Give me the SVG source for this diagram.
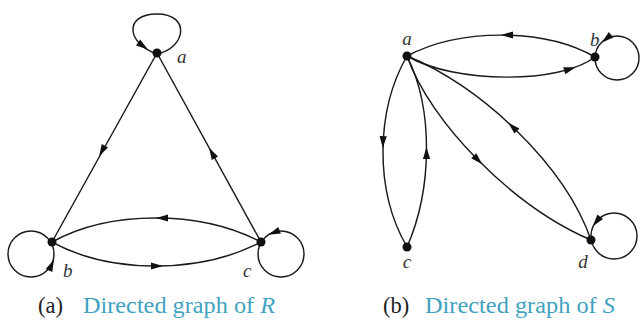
<svg xmlns="http://www.w3.org/2000/svg" width="641" height="326" viewBox="0 0 641 326">
<style>
.e{fill:none;stroke:#1a1a1a;stroke-width:1.45}
.n{fill:#111}
.lbl{font-family:"Liberation Serif",serif;font-style:italic;font-size:19px;fill:#333}
.cap{font-family:"Liberation Serif",serif;font-size:22.5px;fill:#222}
.teal{fill:#3fa2c0}
</style>
<defs>
<polygon id="ah" points="6,0 -6,-3.6 -6,3.6" fill="#111"/>
</defs>
<rect width="641" height="326" fill="#fff"/>

<g id="connectors">
  <!-- Graph R -->
  <line class="e" x1="157" y1="53" x2="52" y2="242"/>
  <line class="e" x1="261" y1="242" x2="157" y2="53"/>
  <path class="e" d="M261,242 C200,210 110,210 52,242"/>
  <path class="e" d="M52,242 C110,274 200,274 261,242"/>
  <path class="e" d="M157,54 C186,48 191,14 157,14 C123,14 127,44 157,54"/>
  <circle class="e" cx="31" cy="254" r="23"/>
  <circle class="e" cx="281" cy="254" r="23"/>
  <use href="#ah" transform="translate(102,151) rotate(119)"/>
  <use href="#ah" transform="translate(212,153) rotate(-119)"/>
  <use href="#ah" transform="translate(162,218) rotate(180)"/>
  <use href="#ah" transform="translate(157,266)"/>
  <use href="#ah" transform="translate(143,46) rotate(35)"/>
  <use href="#ah" transform="translate(51.5,265) rotate(-65)"/>
  <use href="#ah" transform="translate(274,232.5) rotate(158)"/>

  <!-- Graph S -->
  <path class="e" d="M595,57 C545,28 460,28 407,56"/>
  <path class="e" d="M407,56 C455,84 560,84 595,57"/>
  <path class="e" d="M407,56 C376,110 374,190 407,247"/>
  <path class="e" d="M407,247 C432,190 434,110 407,56"/>
  <path class="e" d="M407,56 C430,122 512,206 591,240"/>
  <path class="e" d="M591,240 C565,165 480,85 407,56"/>
  <circle class="e" cx="617" cy="58" r="22"/>
  <circle class="e" cx="614" cy="236" r="23"/>
  <use href="#ah" transform="translate(507,35) rotate(180)"/>
  <use href="#ah" transform="translate(570,69) rotate(-17)"/>
  <use href="#ah" transform="translate(383,142) rotate(92)"/>
  <use href="#ah" transform="translate(426.5,153) rotate(-90)"/>
  <use href="#ah" transform="translate(478,160) rotate(45)"/>
  <use href="#ah" transform="translate(512.6,126.8) rotate(-136)"/>
  <use href="#ah" transform="translate(606.5,38.7) rotate(140)"/>
  <use href="#ah" transform="translate(596.5,221.5) rotate(128)"/>
</g>

<g id="R-a"><circle class="n" cx="157" cy="53" r="4.5"/><text class="lbl" x="177" y="63">a</text></g>
<g id="R-b"><circle class="n" cx="52" cy="242" r="4.5"/><text class="lbl" x="63" y="277">b</text></g>
<g id="R-c"><circle class="n" cx="261" cy="242" r="4.5"/><text class="lbl" x="243" y="277">c</text></g>

<g id="S-a"><circle class="n" cx="407" cy="56" r="4.5"/><text class="lbl" x="407" y="45" text-anchor="middle">a</text></g>
<g id="S-b"><circle class="n" cx="595" cy="57" r="4.5"/><text class="lbl" x="590" y="46">b</text></g>
<g id="S-c"><circle class="n" cx="407" cy="247" r="4.5"/><text class="lbl" x="407" y="268" text-anchor="middle">c</text></g>
<g id="S-d"><circle class="n" cx="591" cy="240" r="4.5"/><text class="lbl" x="583" y="268" text-anchor="middle">d</text></g>

<g id="captions">
  <text class="cap" x="38" y="313">(a)</text>
  <text class="cap teal" x="83" y="313" textLength="192" lengthAdjust="spacingAndGlyphs">Directed graph of <tspan font-style="italic">R</tspan></text>
  <text class="cap" x="383" y="313">(b)</text>
  <text class="cap teal" x="425" y="313" textLength="190" lengthAdjust="spacingAndGlyphs">Directed graph of <tspan font-style="italic">S</tspan></text>
</g>
</svg>
